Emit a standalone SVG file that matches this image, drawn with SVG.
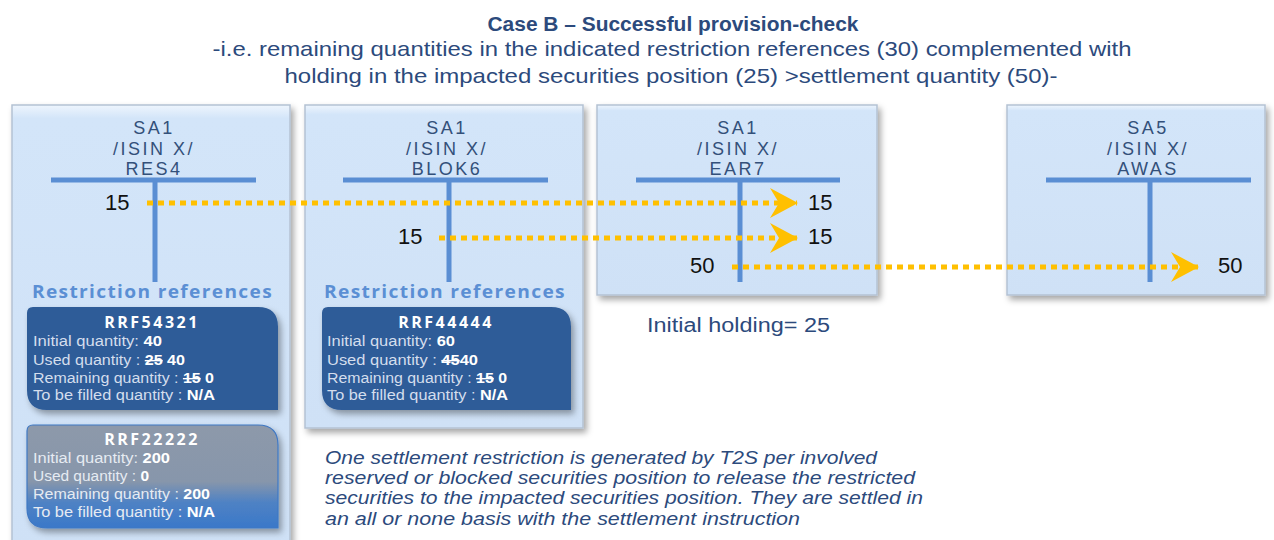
<svg xmlns="http://www.w3.org/2000/svg" width="1274" height="540" viewBox="0 0 1274 540">
<defs>
  <filter id="sh" x="-10%" y="-10%" width="125%" height="125%">
    <feDropShadow dx="3" dy="4" stdDeviation="3" flood-color="#000" flood-opacity="0.35"/>
  </filter>
  <linearGradient id="bev" x1="0" y1="0" x2="0" y2="1">
    <stop offset="0" stop-color="#eef5fd"/>
    <stop offset="0.03" stop-color="#d3e5f9"/>
    <stop offset="1" stop-color="#cfe1f6"/>
  </linearGradient>
  <linearGradient id="gray" x1="0" y1="0" x2="0" y2="1">
    <stop offset="0" stop-color="#8d99aa"/>
    <stop offset="0.55" stop-color="#8796ab"/>
    <stop offset="0.75" stop-color="#4f82c4"/>
    <stop offset="1" stop-color="#3a78c9"/>
  </linearGradient>
  <marker id="arr" viewBox="0 0 28 30" refX="27" refY="15" markerWidth="28" markerHeight="30" markerUnits="userSpaceOnUse" orient="auto">
    <polygon points="0,0 28,15 0,30 9,15" fill="#ffc000"/>
  </marker>
  <style>
    .box{fill:url(#bev);stroke:#b4c2d3;stroke-width:1.5;filter:url(#sh)}
    .hd{font-family:"Liberation Sans",sans-serif;font-size:18px;fill:#33507a;letter-spacing:2.5px;text-anchor:middle}
    .tbar{stroke:#5a8ed3;stroke-width:5;fill:none}
    .num{font-family:"Liberation Sans","Open Sans",sans-serif;font-size:22px;fill:#111}
    .rr{font-family:"Open Sans","Liberation Sans",sans-serif;font-size:17px;font-weight:bold;fill:#5b8fd4;letter-spacing:1.2px}
    .rrf{fill:#2d5b98;filter:url(#sh)}
    .rt{font-family:"Open Sans","Liberation Sans",sans-serif;font-size:16px;font-weight:bold;fill:#fff;letter-spacing:2.5px;text-anchor:middle}
    .ln{font-family:"Liberation Sans",sans-serif;font-size:14px;fill:#d4deed}
    .ln2{font-family:"Liberation Sans",sans-serif;font-size:14px;fill:#e6ebf2}
    .v{font-weight:bold;fill:#fff}
    .st{text-decoration:line-through}
    .dot{stroke:#ffc000;stroke-width:5;stroke-dasharray:6 5;fill:none}
    .ttl{font-family:"Liberation Sans",sans-serif;fill:#2c4a7c;text-anchor:middle}
    .it{font-family:"Liberation Sans",sans-serif;font-style:italic;font-size:18px;fill:#2c4a7c}
  </style>
</defs>
<rect width="1274" height="540" fill="#fff"/>

<g id="title">
  <text class="ttl" x="673" y="31" font-size="20" font-weight="bold" textLength="371" lengthAdjust="spacingAndGlyphs">Case B – Successful  provision-check</text>
  <text class="ttl" x="672" y="56" font-size="21" textLength="919" lengthAdjust="spacingAndGlyphs">-i.e. remaining quantities in the indicated restriction references (30) complemented with</text>
  <text class="ttl" x="671" y="83" font-size="21" textLength="773" lengthAdjust="spacingAndGlyphs">holding in the impacted securities position (25) &gt;settlement quantity (50)-</text>
</g>

<g id="node-res4">
  <rect class="box" x="12" y="105" width="278" height="445"/>
  <text class="hd" x="154" y="134">SA1</text>
  <text class="hd" x="154" y="155">/ISIN X/</text>
  <text class="hd" x="154" y="175">RES4</text>
  <path class="tbar" d="M51 180H256M155 180V282"/>
  <text class="num" x="105" y="210">15</text>
  <text class="rr" x="32" y="298" textLength="241" lengthAdjust="spacingAndGlyphs">Restriction references</text>
  <g id="rrf54321">
    <path class="rrf" d="M33 307H258Q278 307 278 327V410H47Q27 410 27 390V313Q27 307 33 307Z"/>
    <text class="rt" x="152" y="328">RRF54321</text>
    <text class="ln" x="33" y="346" textLength="129" lengthAdjust="spacingAndGlyphs">Initial quantity: <tspan class="v">40</tspan></text>
    <text class="ln" x="33" y="365" textLength="152" lengthAdjust="spacingAndGlyphs">Used quantity : <tspan class="v st">25</tspan><tspan class="v"> 40</tspan></text>
    <text class="ln" x="33" y="383" textLength="181" lengthAdjust="spacingAndGlyphs">Remaining quantity : <tspan class="v st">15</tspan><tspan class="v"> 0</tspan></text>
    <text class="ln" x="33" y="400" textLength="182" lengthAdjust="spacingAndGlyphs">To be filled quantity : <tspan class="v">N/A</tspan></text>
  </g>
  <g id="rrf22222">
    <path d="M33 425H258Q278 425 278 445V528H47Q27 528 27 508V431Q27 425 33 425Z" fill="url(#gray)" stroke="#3f78c4" stroke-width="1.2" filter="url(#sh)"/>
    <text class="rt" x="152" y="445">RRF22222</text>
    <text class="ln2" x="33" y="463" textLength="137" lengthAdjust="spacingAndGlyphs">Initial quantity: <tspan class="v">200</tspan></text>
    <text class="ln2" x="33" y="481" textLength="116" lengthAdjust="spacingAndGlyphs">Used quantity : <tspan class="v">0</tspan></text>
    <text class="ln2" x="33" y="499" textLength="177" lengthAdjust="spacingAndGlyphs">Remaining quantity : <tspan class="v">200</tspan></text>
    <text class="ln2" x="33" y="517" textLength="182" lengthAdjust="spacingAndGlyphs">To be filled quantity : <tspan class="v">N/A</tspan></text>
  </g>
</g>

<g id="node-blok6">
  <rect class="box" x="305" y="105" width="278" height="323"/>
  <text class="hd" x="447" y="134">SA1</text>
  <text class="hd" x="447" y="155">/ISIN X/</text>
  <text class="hd" x="447" y="175">BLOK6</text>
  <path class="tbar" d="M343 180H548M449 180V282"/>
  <text class="num" x="398" y="244">15</text>
  <text class="rr" x="324" y="298" textLength="242" lengthAdjust="spacingAndGlyphs">Restriction references</text>
  <g id="rrf44444">
    <path class="rrf" d="M328 307H551Q571 307 571 327V410H342Q322 410 322 390V313Q322 307 328 307Z"/>
    <text class="rt" x="446" y="328">RRF44444</text>
    <text class="ln" x="327" y="346" textLength="128" lengthAdjust="spacingAndGlyphs">Initial quantity: <tspan class="v">60</tspan></text>
    <text class="ln" x="327" y="365" textLength="151" lengthAdjust="spacingAndGlyphs">Used quantity : <tspan class="v st">45</tspan><tspan class="v">40</tspan></text>
    <text class="ln" x="327" y="383" textLength="180" lengthAdjust="spacingAndGlyphs">Remaining quantity : <tspan class="v st">15</tspan><tspan class="v"> 0</tspan></text>
    <text class="ln" x="327" y="400" textLength="181" lengthAdjust="spacingAndGlyphs">To be filled quantity : <tspan class="v">N/A</tspan></text>
  </g>
</g>

<g id="node-ear7">
  <rect class="box" x="597" y="105" width="280" height="190"/>
  <text class="hd" x="738" y="134">SA1</text>
  <text class="hd" x="738" y="155">/ISIN X/</text>
  <text class="hd" x="738" y="175">EAR7</text>
  <path class="tbar" d="M636 180H840M740 180V282"/>
  <text class="num" x="808" y="210">15</text>
  <text class="num" x="808" y="244">15</text>
  <text class="num" x="690" y="273">50</text>
</g>
<text id="holding" x="647" y="332" font-family="Liberation Sans,sans-serif" font-size="20" fill="#2c4a7c" textLength="183" lengthAdjust="spacingAndGlyphs">Initial holding= 25</text>

<g id="node-awas">
  <rect class="box" x="1007" y="105" width="258" height="190"/>
  <text class="hd" x="1148" y="134">SA5</text>
  <text class="hd" x="1148" y="155">/ISIN X/</text>
  <text class="hd" x="1148" y="175">AWAS</text>
  <path class="tbar" d="M1046 180H1251M1150 180V282"/>
  <text class="num" x="1218" y="273">50</text>
</g>

<g id="connectors">
  <path class="dot" d="M147 203H797" marker-end="url(#arr)"/>
  <path class="dot" d="M439 238H797" marker-end="url(#arr)"/>
  <path class="dot" d="M732 267H1198" marker-end="url(#arr)"/>
</g>

<g id="note">
  <text class="it" x="325" y="464" textLength="552" lengthAdjust="spacingAndGlyphs">One settlement restriction is generated by T2S per involved</text>
  <text class="it" x="325" y="484" textLength="590" lengthAdjust="spacingAndGlyphs">reserved  or blocked securities position to release the restricted</text>
  <text class="it" x="325" y="504" textLength="598" lengthAdjust="spacingAndGlyphs">securities to the impacted securities position. They are settled in</text>
  <text class="it" x="325" y="525" textLength="475" lengthAdjust="spacingAndGlyphs">an all or none basis with the settlement instruction</text>
</g>
</svg>
